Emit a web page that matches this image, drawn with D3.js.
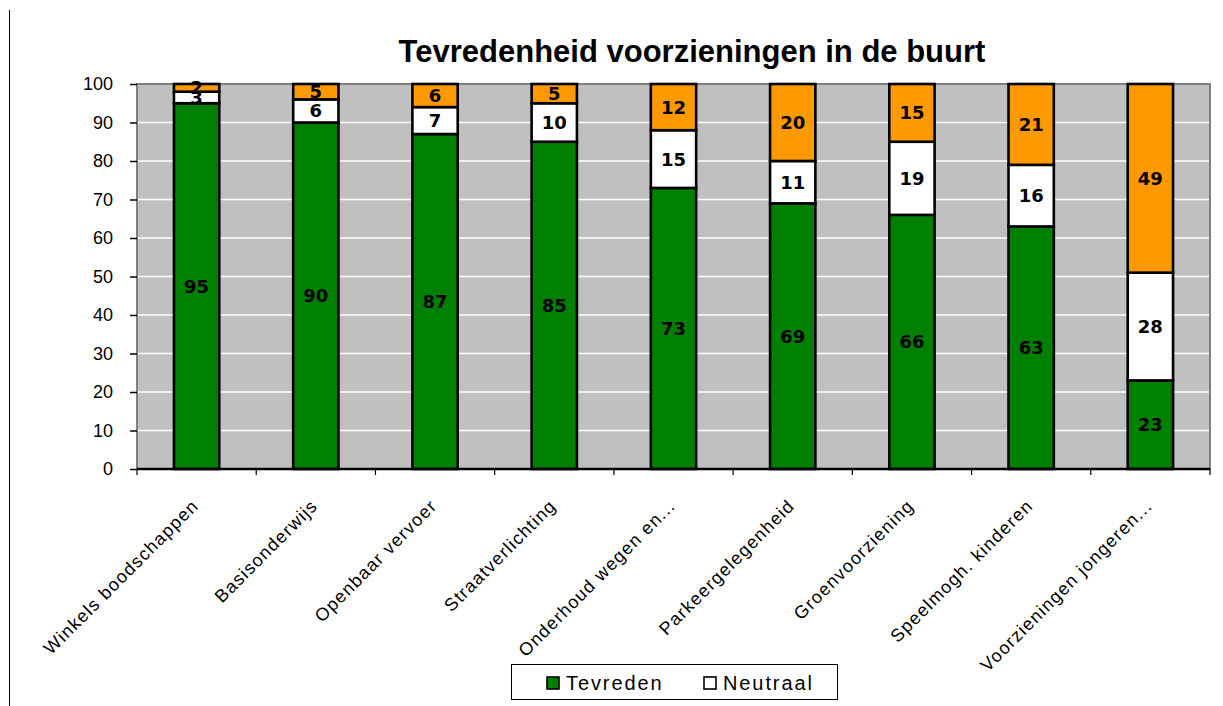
<!DOCTYPE html>
<html><head><meta charset="utf-8">
<script src="https://cdn.jsdelivr.net/npm/d3@7"></script>
<style>
body{margin:0;background:#fff}
</style>
</head><body>
<svg id="c" width="1223" height="706"></svg>
<script>
const categories = ["Winkels boodschappen","Basisonderwijs","Openbaar vervoer","Straatverlichting","Onderhoud wegen en...","Parkeergelegenheid","Groenvoorziening","Speelmogh. kinderen","Voorzieningen jongeren..."];
const tevreden   = [95, 90, 87, 85, 73, 69, 66, 63, 23];
const neutraal   = [3, 6, 7, 10, 15, 11, 19, 16, 28];
const ontevreden = [2, 5, 6, 5, 12, 20, 15, 21, 49];
const yTicks = [0,10,20,30,40,50,60,70,80,90,100];
const seriesKeys = ["Tevreden","Neutraal","Ontevreden"];
const seriesColors = ["#008000","#ffffff","#ff9900"];
const legendKeys = ["Tevreden","Neutraal"];
const title = "Tevredenheid voorzieningen in de buurt";

const SANS = "Liberation Sans, Arial, sans-serif";
const VERD = "DejaVu Sans, Verdana, sans-serif";
const rows = categories.map((c,i)=>({cat:c, Tevreden:tevreden[i], Neutraal:neutraal[i], Ontevreden:ontevreden[i]}));
const svg = d3.select("#c");
const L=137, R=1210, T=84, B=469;
const x = d3.scaleBand().domain(categories).range([L,R]).padding(0);
const y = d3.scaleLinear().domain([0,100]).range([B,T]);
const color = d3.scaleOrdinal().domain(seriesKeys).range(seriesColors);

// left frame line
svg.append("line").attr("x1",9.5).attr("x2",9.5).attr("y1",10).attr("y2",706).attr("stroke","#000").attr("stroke-width",1);

// title
svg.append("text").attr("x",(401+983)/2).attr("y",62).attr("text-anchor","middle")
  .style("font-family",SANS).attr("font-size",31).attr("font-weight","bold").attr("fill","#000").text(title);

// plot background
svg.append("rect").attr("x",L).attr("y",T).attr("width",R-L).attr("height",B-T)
  .attr("fill","#c0c0c0").attr("stroke","#808080").attr("stroke-width",2);

// gridlines
svg.append("g").selectAll("line").data(yTicks.filter(t=>t>0&&t<100)).join("line")
  .attr("x1",L+1).attr("x2",R-1).attr("y1",d=>y(d)).attr("y2",d=>y(d))
  .attr("stroke","#fff").attr("stroke-width",1.5);

// y axis
const yAxis = d3.axisLeft(y).tickValues(yTicks).tickSize(7).tickPadding(17);
const gy = svg.append("g").attr("transform",`translate(${L},0)`).call(yAxis);
gy.select(".domain").remove();
gy.selectAll(".tick line").attr("stroke","#000").attr("stroke-width",1.5);
gy.selectAll(".tick text").attr("font-size",18).attr("fill","#000").style("font-family",SANS);

// stacked bars
const stack = d3.stack().keys(seriesKeys)(rows);
const bw = x.bandwidth()*0.38;
const g = svg.append("g");
stack.forEach(s=>{
  g.append("g").selectAll("rect").data(s).join("rect")
    .attr("x",d=>x(d.data.cat)+x.bandwidth()/2-bw/2)
    .attr("width",bw)
    .attr("y",d=>y(Math.min(d[1],100)))
    .attr("height",d=>y(d[0])-y(Math.min(d[1],100)))
    .attr("fill",color(s.key)).attr("stroke","#000").attr("stroke-width",2.6);
});
stack.forEach(s=>{
  g.append("g").selectAll("text").data(s).join("text")
    .attr("x",d=>x(d.data.cat)+x.bandwidth()/2)
    .attr("y",d=>(y(d[0])+y(Math.min(d[1],100)))/2)
    .attr("dy","0.36em").attr("text-anchor","middle")
    .style("font-family",VERD).attr("font-weight","bold")
    .attr("font-size",18).attr("fill","#000")
    .text(d=>d.data[s.key]);
});

// x axis
const xTickPos = categories.map(c=>x(c)).concat([R]);
svg.append("line").attr("x1",L).attr("x2",R).attr("y1",B).attr("y2",B).attr("stroke","#000").attr("stroke-width",2.5);
svg.append("g").selectAll("line").data(xTickPos).join("line")
  .attr("x1",d=>d).attr("x2",d=>d).attr("y1",B).attr("y2",B+6).attr("stroke","#000").attr("stroke-width",1.2);
svg.append("g").selectAll("text").data(categories).join("text")
  .attr("transform",d=>`translate(${x(d)+x.bandwidth()/2+3},${B+38}) rotate(-45)`)
  .attr("text-anchor","end").style("font-family",SANS).attr("font-size",18).attr("fill","#000").attr("letter-spacing",1.2)
  .text(d=>d);

// legend
const lg = svg.append("g");
lg.append("rect").attr("x",511.5).attr("y",664.5).attr("width",326).attr("height",35)
  .attr("fill","#fff").attr("stroke","#000").attr("stroke-width",1);
const legX = [547,704];
legendKeys.forEach((k,i)=>{
  lg.append("rect").attr("x",legX[i]).attr("y",677).attr("width",12).attr("height",12)
    .attr("fill",color(k)).attr("stroke","#000").attr("stroke-width",1.6);
  lg.append("text").attr("x",legX[i]+19).attr("y",690).style("font-family",SANS).attr("font-size",20).attr("letter-spacing",1.9)
    .attr("fill","#000").text(k);
});
</script>
</body></html>
